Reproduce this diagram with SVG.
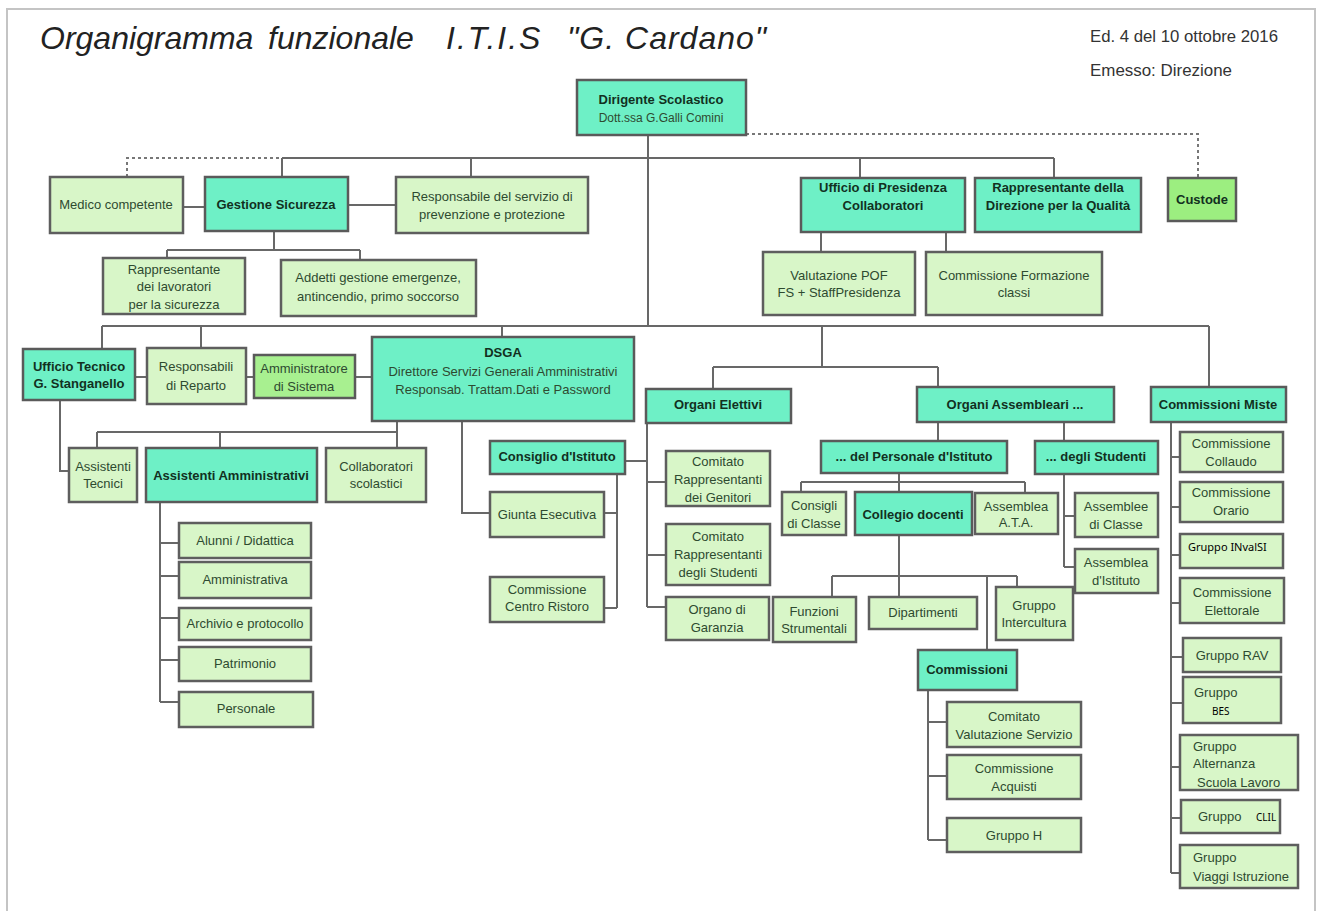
<svg xmlns="http://www.w3.org/2000/svg" width="1323" height="911" viewBox="0 0 1323 911">
<style>
.t{fill:#6ef0c6;stroke:#5a5a5a;stroke-width:2.5}
.l{fill:#d8f6c8;stroke:#5e5e5e;stroke-width:2.5}
.g{fill:#9cee80;stroke:#5a5a5a;stroke-width:2.5}
.a{fill:#a8f090;stroke:#5a5a5a;stroke-width:2.5}
.c{stroke:#686868;stroke-width:2;fill:none}
.d{stroke:#777;stroke-width:2;fill:none;stroke-dasharray:3 3}
text{font-family:"Liberation Sans",Arial,sans-serif;font-size:13px;fill:#2e4a30;text-anchor:middle}
text.b{font-weight:bold;fill:#12301f}
text.s{text-anchor:start}
text.k{font-family:"Noto Sans","Open Sans",sans-serif;font-size:11px;fill:#000;text-anchor:start}
</style>
<rect x="7" y="9" width="1308" height="910" fill="#fff" stroke="#c4c4c4" stroke-width="2"/>
<g id="title">
<text x="40" y="49" style="font-size:32px;font-style:italic;fill:#222;text-anchor:start"><tspan x="40">Organigramma</tspan><tspan x="268">funzionale</tspan><tspan x="446" letter-spacing="2">I.T.I.S</tspan><tspan x="567" letter-spacing="1">"G. Cardano"</tspan></text>
<text x="1090" y="42" class="s" style="font-size:16px;fill:#333" textLength="188" lengthAdjust="spacingAndGlyphs">Ed. 4 del 10 ottobre 2016</text>
<text x="1090" y="76" class="s" style="font-size:16px;fill:#333" textLength="142" lengthAdjust="spacingAndGlyphs">Emesso: Direzione</text>
</g>
<g id="connectors">
<path class="d" d="M746 134H1198V178M127 177V158H282"/>
<path class="c" d="M282 158H1054M282 158V177M471 158V177M860 158V178M1054 158V178M648 135V326"/>
<path class="c" d="M183 207H205M348 205H396M274 231V250M167 250H360M167 250V258M360 250V260M821 232V252M946 232V252"/>
<path class="c" d="M102 326H1209M102 326V349M201 326V348M502 326V337M1209 326V387M822 326V367M713 367H938M713 367V389M938 367V387"/>
<path class="c" d="M135 377H147M246 377H254M355 377H372M60 400V471H69"/>
<path class="c" d="M397 421V432M97 432H397M97 432V448M220 432V448M397 432V448M462 421V513H490"/>
<path class="c" d="M160 502V702M160 543H179M160 576H179M160 618H179M160 660H179M160 702H179"/>
<path class="c" d="M617 474V608M604 513H617M604 608H617M625 461H647M647 423V607M647 482H666M647 555H666M647 607H666"/>
<path class="c" d="M938 422V441M1064 422V441M899 473V492M801 482H1025M801 482V492M1025 482V493M1064 474V567M1064 516H1075M1064 567H1075"/>
<path class="c" d="M899 535V597M832 576H1017M832 576V597M1017 576V587M987 576V650M928 690V840M928 722H947M928 776H947M928 840H947"/>
<path class="c" d="M1171 422V873M1171 457H1180M1171 507H1180M1171 555H1180M1171 603H1180M1171 657H1183M1171 703H1183M1171 767H1180M1171 818H1181M1171 873H1180"/>
</g>
<g id="dirigente"><rect class="t" x="577" y="80" width="169" height="55"/><text class="b" x="661" y="104">Dirigente Scolastico</text><text x="661" y="122" style="font-size:12px">Dott.ssa  G.Galli Comini</text></g>
<g id="medico"><rect class="l" x="50" y="177" width="133" height="56"/><text x="116" y="209">Medico competente</text></g>
<g id="gestione"><rect class="t" x="205" y="177" width="143" height="54"/><text class="b" x="276" y="209">Gestione Sicurezza</text></g>
<g id="rspp"><rect class="l" x="396" y="177" width="192" height="56"/><text x="492" y="201">Responsabile del servizio di</text><text x="492" y="219">prevenzione e protezione</text></g>
<g id="presidenza"><rect class="t" x="801" y="178" width="164" height="54"/><text class="b" x="883" y="192">Ufficio di Presidenza</text><text class="b" x="883" y="210">Collaboratori</text></g>
<g id="qualita"><rect class="t" x="975" y="178" width="166" height="54"/><text class="b" x="1058" y="192">Rappresentante della</text><text class="b" x="1058" y="210">Direzione per la Qualità</text></g>
<g id="custode"><rect class="g" x="1168" y="178" width="68" height="43"/><text class="b" x="1202" y="204">Custode</text></g>
<g id="rls"><rect class="l" x="103" y="258" width="142" height="56"/><text x="174" y="274">Rappresentante</text><text x="174" y="291">dei lavoratori</text><text x="174" y="309">per la sicurezza</text></g>
<g id="addetti"><rect class="l" x="281" y="260" width="195" height="56"/><text x="378" y="282">Addetti gestione emergenze,</text><text x="378" y="301">antincendio, primo soccorso</text></g>
<g id="pof"><rect class="l" x="763" y="252" width="152" height="63"/><text x="839" y="280">Valutazione POF</text><text x="839" y="297">FS + StaffPresidenza</text></g>
<g id="formazione"><rect class="l" x="926" y="252" width="176" height="63"/><text x="1014" y="280">Commissione Formazione</text><text x="1014" y="297">classi</text></g>
<g id="ufftecnico"><rect class="t" x="23" y="349" width="112" height="51"/><text class="b" x="79" y="371">Ufficio Tecnico</text><text class="b" x="79" y="388">G. Stanganello</text></g>
<g id="reparto"><rect class="l" x="147" y="348" width="99" height="56"/><text x="196" y="371">Responsabili</text><text x="196" y="390">di Reparto</text></g>
<g id="sistema"><rect class="a" x="254" y="355" width="101" height="43"/><text x="304" y="373">Amministratore</text><text x="304" y="391">di Sistema</text></g>
<g id="dsga"><rect class="t" x="372" y="337" width="262" height="84"/><text class="b" x="503" y="357">DSGA</text><text x="503" y="376">Direttore Servizi Generali Amministrativi</text><text x="503" y="394">Responsab. Trattam.Dati  e Password</text></g>
<g id="asstecnici"><rect class="l" x="69" y="448" width="68" height="54"/><text x="103" y="471">Assistenti</text><text x="103" y="488">Tecnici</text></g>
<g id="assamm"><rect class="t" x="146" y="448" width="171" height="54"/><text class="b" x="231" y="480">Assistenti  Amministrativi</text></g>
<g id="collab"><rect class="l" x="326" y="448" width="100" height="54"/><text x="376" y="471">Collaboratori</text><text x="376" y="488">scolastici</text></g>
<g id="alunni"><rect class="l" x="179" y="523" width="132" height="35"/><text x="245" y="545">Alunni / Didattica</text></g>
<g id="amministrativa"><rect class="l" x="179" y="562" width="132" height="36"/><text x="245" y="584">Amministrativa</text></g>
<g id="archivio"><rect class="l" x="179" y="608" width="132" height="32"/><text x="245" y="628">Archivio e protocollo</text></g>
<g id="patrimonio"><rect class="l" x="179" y="647" width="132" height="34"/><text x="245" y="668">Patrimonio</text></g>
<g id="personale"><rect class="l" x="179" y="692" width="134" height="35"/><text x="246" y="713">Personale</text></g>
<g id="consiglio"><rect class="t" x="490" y="441" width="135" height="33"/><text class="b" x="557" y="461">Consiglio d'Istituto</text></g>
<g id="giunta"><rect class="l" x="490" y="492" width="114" height="45"/><text x="547" y="519">Giunta  Esecutiva</text></g>
<g id="ristoro"><rect class="l" x="490" y="577" width="114" height="45"/><text x="547" y="594">Commissione</text><text x="547" y="611">Centro Ristoro</text></g>
<g id="elettivi"><rect class="t" x="646" y="389" width="145" height="34"/><text class="b" x="718" y="409">Organi Elettivi</text></g>
<g id="genitori"><rect class="l" x="666" y="451" width="104" height="55"/><text x="718" y="466">Comitato</text><text x="718" y="484">Rappresentanti</text><text x="718" y="502">dei Genitori</text></g>
<g id="studenti"><rect class="l" x="666" y="524" width="104" height="61"/><text x="718" y="541">Comitato</text><text x="718" y="559">Rappresentanti</text><text x="718" y="577">degli Studenti</text></g>
<g id="garanzia"><rect class="l" x="666" y="597" width="103" height="43"/><text x="717" y="614">Organo di</text><text x="717" y="632">Garanzia</text></g>
<g id="assembleari"><rect class="t" x="917" y="387" width="197" height="35"/><text class="b" x="1015" y="409">Organi Assembleari ...</text></g>
<g id="miste"><rect class="t" x="1151" y="387" width="135" height="35"/><text class="b" x="1218" y="409">Commissioni Miste</text></g>
<g id="delpersonale"><rect class="t" x="821" y="441" width="186" height="32"/><text class="b" x="914" y="461">... del Personale d'Istituto</text></g>
<g id="deglistudenti"><rect class="t" x="1035" y="441" width="123" height="33"/><text class="b" x="1096" y="461">... degli Studenti</text></g>
<g id="consigliclasse"><rect class="l" x="782" y="492" width="64" height="43"/><text x="814" y="510">Consigli</text><text x="814" y="528">di Classe</text></g>
<g id="collegio"><rect class="t" x="855" y="492" width="117" height="43"/><text class="b" x="913" y="519">Collegio docenti</text></g>
<g id="ata"><rect class="l" x="975" y="493" width="83" height="41"/><text x="1016" y="511">Assemblea</text><text x="1016" y="527">A.T.A.</text></g>
<g id="assclasse"><rect class="l" x="1075" y="493" width="83" height="44"/><text x="1116" y="511">Assemblee</text><text x="1116" y="529">di Classe</text></g>
<g id="assistituto"><rect class="l" x="1075" y="549" width="83" height="44"/><text x="1116" y="567">Assemblea</text><text x="1116" y="585">d'Istituto</text></g>
<g id="funzioni"><rect class="l" x="773" y="597" width="83" height="45"/><text x="814" y="616">Funzioni</text><text x="814" y="633">Strumentali</text></g>
<g id="dipartimenti"><rect class="l" x="869" y="597" width="108" height="32"/><text x="923" y="617">Dipartimenti</text></g>
<g id="intercultura"><rect class="l" x="996" y="587" width="77" height="53"/><text x="1034" y="610">Gruppo</text><text x="1034" y="627">Intercultura</text></g>
<g id="commissioni"><rect class="t" x="918" y="650" width="99" height="40"/><text class="b" x="967" y="674">Commissioni</text></g>
<g id="valutazione"><rect class="l" x="947" y="702" width="134" height="45"/><text x="1014" y="721">Comitato</text><text x="1014" y="739">Valutazione  Servizio</text></g>
<g id="acquisti"><rect class="l" x="947" y="755" width="134" height="44"/><text x="1014" y="773">Commissione</text><text x="1014" y="791">Acquisti</text></g>
<g id="gruppoh"><rect class="l" x="947" y="818" width="134" height="34"/><text x="1014" y="840">Gruppo H</text></g>
<g id="collaudo"><rect class="l" x="1180" y="432" width="103" height="40"/><text x="1231" y="448">Commissione</text><text x="1231" y="466">Collaudo</text></g>
<g id="orario"><rect class="l" x="1180" y="482" width="103" height="40"/><text x="1231" y="497">Commissione</text><text x="1231" y="515">Orario</text></g>
<g id="invalsi"><rect class="l" x="1180" y="534" width="103" height="34"/><text class="k" x="1188" y="551">Gruppo INvalSI</text></g>
<g id="elettorale"><rect class="l" x="1180" y="578" width="104" height="45"/><text x="1232" y="597">Commissione</text><text x="1232" y="615">Elettorale</text></g>
<g id="rav"><rect class="l" x="1183" y="638" width="98" height="34"/><text x="1232" y="660">Gruppo RAV</text></g>
<g id="bes"><rect class="l" x="1183" y="677" width="98" height="46"/><text class="s" x="1194" y="697">Gruppo</text><text class="k" x="1212" y="715" style="font-size:10px">BES</text></g>
<g id="alternanza"><rect class="l" x="1180" y="735" width="118" height="55"/><text class="s" x="1193" y="751">Gruppo</text><text class="s" x="1193" y="768">Alternanza</text><text class="s" x="1197" y="787">Scuola Lavoro</text></g>
<g id="clil"><rect class="l" x="1181" y="800" width="99" height="33"/><text class="s" x="1198" y="821">Gruppo</text><text class="k" x="1256" y="821" style="font-size:10px">CLIL</text></g>
<g id="viaggi"><rect class="l" x="1180" y="845" width="118" height="43"/><text class="s" x="1193" y="862">Gruppo</text><text class="s" x="1193" y="881">Viaggi Istruzione</text></g>
</svg>
